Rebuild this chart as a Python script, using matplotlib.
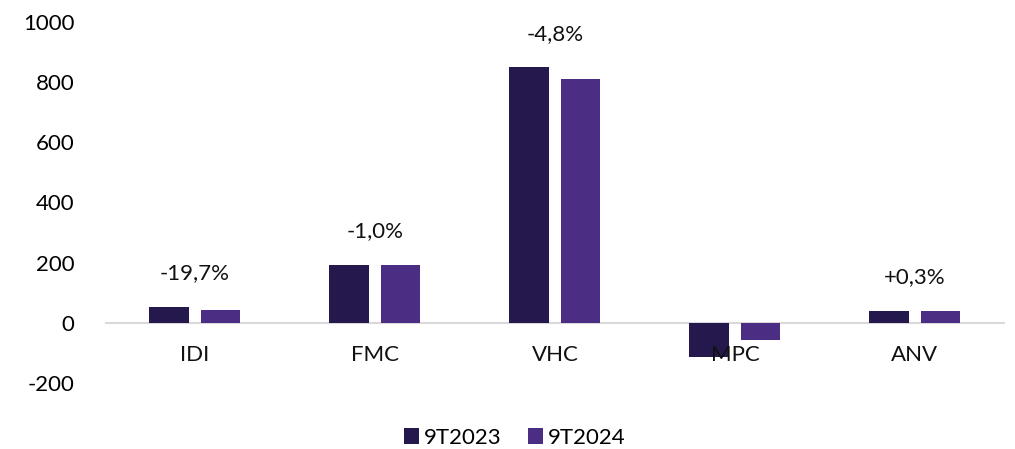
import matplotlib.pyplot as plt
import numpy as np

plt.rcParams['font.family'] = ['Lato', 'DejaVu Sans']

categories = ["IDI", "FMC", "VHC", "MPC", "ANV"]
values_2023 = [53, 193, 850, -113, 40]
values_2024 = [43, 191, 809, -56, 40]
change_labels = ["-19,7%", "-1,0%", "-4,8%", None, "+0,3%"]
series_names = ["9T2023", "9T2024"]
colors = ["#25184d", "#4b2e83"]
yticks = [-200, 0, 200, 400, 600, 800, 1000]

fig = plt.figure(figsize=(10.15, 4.49), dpi=100)
ax = fig.add_axes([0.1034, 0.147, 0.8867, 0.804])

x = np.arange(len(categories))
w = 0.222
off = 0.142
b1 = ax.bar(x - off, values_2023, w, color=colors[0], label=series_names[0], zorder=3)
b2 = ax.bar(x + off, values_2024, w, color=colors[1], label=series_names[1], zorder=3)

ax.set_xlim(-0.5, len(categories) - 0.5)
ax.set_ylim(-200, 1000)
ax.set_yticks(yticks)
ax.set_yticklabels([str(t) for t in yticks], fontsize=16)
ax.tick_params(axis='y', length=0, pad=22)
ax.set_xticks([])
ax.axhline(0, color="#d9d9d9", lw=1.5, zorder=2)
for s in ax.spines.values():
    s.set_visible(False)

# category labels sit just under the zero line
for i, c in enumerate(categories):
    ax.annotate(c, xy=(i, 0), xytext=(0, -23), textcoords="offset points",
                ha="center", va="center", fontsize=16, color="#111111", zorder=4)

# percentage change labels above each pair
for i, lab in enumerate(change_labels):
    if lab is None:
        continue
    top = max(values_2023[i], values_2024[i])
    ax.annotate(lab, xy=(i, top), xytext=(0, 24), textcoords="offset points",
                ha="center", va="center", fontsize=16, color="#111111")

leg = fig.legend(handles=[b1, b2], labels=series_names, loc="center",
                 bbox_to_anchor=(0.507, 0.025), ncol=2, frameon=False,
                 fontsize=16, handlelength=0.7, handleheight=0.7,
                 handletextpad=0.2, columnspacing=1.2)

fig.savefig("out.png", dpi=100)
